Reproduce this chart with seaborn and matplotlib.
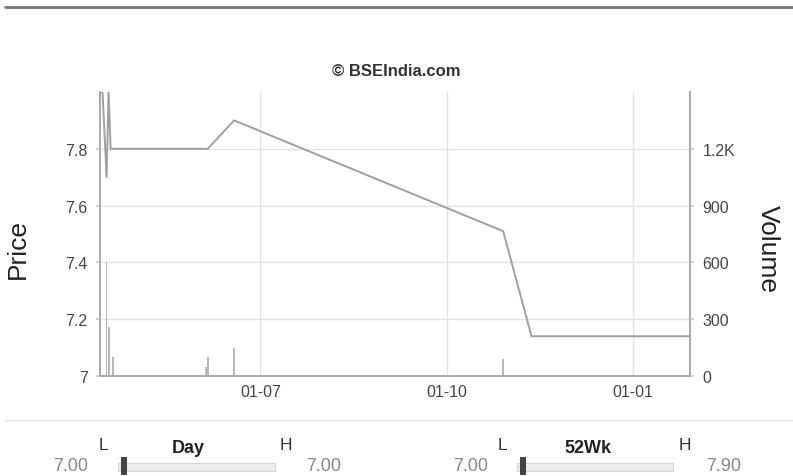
import pandas as pd
import matplotlib.pyplot as plt
import matplotlib.dates as mdates
from matplotlib.patches import Rectangle
from matplotlib.lines import Line2D
from matplotlib.ticker import FuncFormatter
import seaborn as sns

# price series (daily closes)
price_dates = ["2017-04-12", "2017-04-14", "2017-04-16", "2017-04-17", "2017-04-18",
               "2017-06-05", "2017-06-18", "2017-10-29", "2017-11-12", "2018-01-29"]
price_values = [8.0, 8.0, 7.7, 8.0, 7.8, 7.8, 7.9, 7.51, 7.14, 7.14]

# traded volume
vol_dates = ["2017-04-12", "2017-04-16", "2017-04-17", "2017-04-19",
             "2017-06-04", "2017-06-05", "2017-06-18", "2017-10-29"]
vol_values = [110, 600, 260, 100, 50, 100, 150, 90]

price_ticks = [7, 7.2, 7.4, 7.6, 7.8]
vol_ticks = [0, 300, 600, 900, 1200]
date_ticks = ["2017-07-01", "2017-10-01", "2018-01-01"]

day_low, day_high = "7.00", "7.00"
wk_low, wk_high = "7.00", "7.90"

sns.set_theme(style="white")
plt.rcParams["font.family"] = ["Liberation Sans", "DejaVu Sans"]

price = pd.DataFrame({"date": pd.to_datetime(price_dates), "price": price_values})
vol = pd.DataFrame({"date": pd.to_datetime(vol_dates), "volume": vol_values})

fig = plt.figure(figsize=(7.93, 4.77), dpi=100)
ax = fig.add_axes([100 / 793, 1 - 377 / 477, 590 / 793, 284 / 477])
ax2 = ax.twinx()

sns.lineplot(data=price, x="date", y="price", ax=ax, color="#a0a0a0", linewidth=1.4)
ax2.bar(vol["date"], vol["volume"], width=0.9, color="#b8b8b8", linewidth=0)

ax.set_xlim(pd.Timestamp("2017-04-12 18:00"), pd.Timestamp("2018-01-29 08:00"))
ax.set_ylim(7, 8)
ax2.set_ylim(0, 1500)

ax.set_yticks(price_ticks)
ax.set_yticklabels([f"{v:g}" for v in price_ticks])
ax2.set_yticks(vol_ticks)
ax2.yaxis.set_major_formatter(FuncFormatter(lambda v, p: f"{v / 1000:g}K" if v >= 1000 else f"{v:g}"))
ax.set_xticks(pd.to_datetime(date_ticks))
ax.xaxis.set_major_formatter(mdates.DateFormatter("%d-%m"))

ax.grid(True, color="#e2e2e2", linewidth=1)
ax2.grid(False)
for a in (ax, ax2):
    for s in a.spines.values():
        s.set_color("#aaaaaa")
        s.set_linewidth(1.2)
    a.spines["top"].set_visible(False)
    a.tick_params(colors="#444444", labelsize=11.5, length=0, pad=6)
ax.tick_params(axis="y", length=3, color="#cccccc")
ax2.tick_params(axis="y", length=3, color="#cccccc")

ax.set_xlabel("")
ax.set_ylabel("Price", fontsize=19, color="#222222", va="center")
ax.yaxis.set_label_coords(-0.139, 0.45)
ax2.set_ylabel("Volume", fontsize=19, color="#222222", rotation=270, va="center")
ax2.yaxis.set_label_coords(1.132, 0.45)

fig.text(396 / 793, 1 - 72 / 477, "© BSEIndia.com", ha="center", va="center",
         fontsize=12, fontweight="bold", color="#333333")

# top rule and bottom separator
fig.add_artist(Line2D([5 / 793, 1], [1 - 8 / 477] * 2, color="#777777", linewidth=2))
fig.add_artist(Line2D([5 / 793, 1], [1 - 421 / 477] * 2, color="#e2e2e2", linewidth=1))


def slider(x0, x1, title, lo, hi, lo_x, hi_x, l_x, h_x, t_x):
    y_lab = 1 - 446 / 477
    y_val = 1 - 467 / 477
    fig.text(l_x / 793, y_lab, "L", ha="center", va="center", fontsize=12.5, color="#333333")
    fig.text(h_x / 793, y_lab, "H", ha="center", va="center", fontsize=12.5, color="#333333")
    fig.text(t_x / 793, 1 - 449 / 477, title, ha="center", va="center", fontsize=13,
             fontweight="bold", color="#222222")
    fig.text(lo_x / 793, y_val, lo, ha="center", va="center", fontsize=13, color="#888888")
    fig.text(hi_x / 793, y_val, hi, ha="center", va="center", fontsize=13, color="#888888")
    fig.add_artist(Rectangle((x0 / 793, 1 - 472 / 477), (x1 - x0) / 793, 8 / 477,
                             facecolor="#ececec", edgecolor="#d6d6d6", linewidth=0.8))
    fig.add_artist(Rectangle(((x0 + 3) / 793, 1 - 475 / 477), 5 / 793, 17 / 477,
                             facecolor="#444444", edgecolor="#333333", linewidth=0.6))


slider(118, 275, "Day", day_low, day_high, 71, 324, 103, 286, 188)
slider(517, 673, "52Wk", wk_low, wk_high, 471, 724, 502, 685, 588)

fig.savefig("out.png", dpi=100)
